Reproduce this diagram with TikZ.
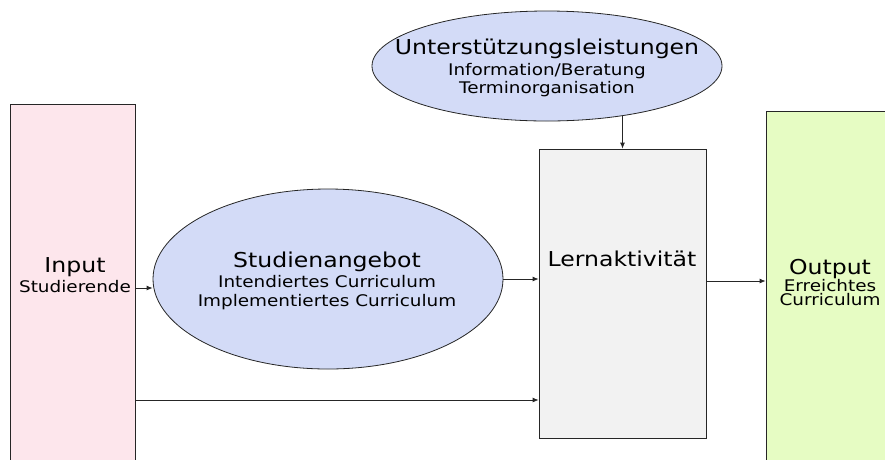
\documentclass[tikz,border=0pt]{standalone}
\usepackage{fontspec}
\setmainfont{DejaVu Sans}[FakeStretch=1.15]
\usetikzlibrary{shapes.geometric,arrows.meta}
\definecolor{pinkfill}{HTML}{FDE6EC}
\definecolor{ellfill}{HTML}{D3DBF7}
\definecolor{grayfill}{HTML}{F2F2F2}
\definecolor{greenfill}{HTML}{E6FCC3}
\newcommand\tsz{\fontsize{20.5}{24}\selectfont}
\tikzset{
  boxshape/.style={draw=black!85, line width=0.8pt, inner sep=0pt},
  ellshape/.style={ellipse, draw=black!85, line width=0.8pt, fill=ellfill, inner sep=0pt},
  lbl/.style={align=center, inner sep=0pt, font=\fontsize{16}{19.5}\selectfont},
  arr/.style={draw=black!85, line width=0.8pt, -{Latex[length=6pt,width=5pt]}}
}
\begin{document}
\begin{tikzpicture}[x=1pt,y=-1pt]
\useasboundingbox (0,0) rectangle (885,459);
% boxes
\node[boxshape, fill=pinkfill, minimum width=125pt, minimum height=366pt] (input) at (72.5,287) {};
\node[boxshape, fill=grayfill, minimum width=167pt, minimum height=289pt] (lern) at (622.5,293.5) {};
\node[boxshape, fill=greenfill, minimum width=140pt, minimum height=359pt] (output) at (836,290.5) {};
% ellipses
\node[ellshape, minimum width=350pt, minimum height=180pt] (stud) at (328,279) {};
\node[ellshape, minimum width=350pt, minimum height=110pt] (unt) at (547,66) {};
% labels
\node[lbl] (studlbl) at (327,281) {{\tsz Studienangebot}\\Intendiertes Curriculum\\Implementiertes Curriculum};
\node[lbl] (untlbl) at (547,67.5) {{\tsz Unterstützungsleistungen}\\[1.5pt]Information/Beratung\\[-1.5pt]Terminorganisation};
\node[lbl] (inputlbl) at (75,275) {{\tsz Input}\\Studierende};
\node[lbl] (lernlbl) at (622,258.5) {\tsz Lernaktivität};
\node[lbl, font=\fontsize{16}{14.5}\selectfont] (outputlbl) at (830,282.5) {{\tsz Output}\\Erreichtes\\Curriculum};
% connectors
\coordinate (a) at (0,288);
\coordinate (b) at (0,400);
\coordinate (c) at (0,281);
\draw[arr] (input.east |- a) -- (stud.west |- a);
\draw[arr] (stud.east) -- (stud.east -| lern.west);
\draw[arr] (input.east |- b) -- (lern.west |- b);
\draw[arr] (lern.east |- c) -- (output.west |- c);
\draw[arr] (lern.north |- unt.-33) -- (lern.north);
\end{tikzpicture}
\end{document}
